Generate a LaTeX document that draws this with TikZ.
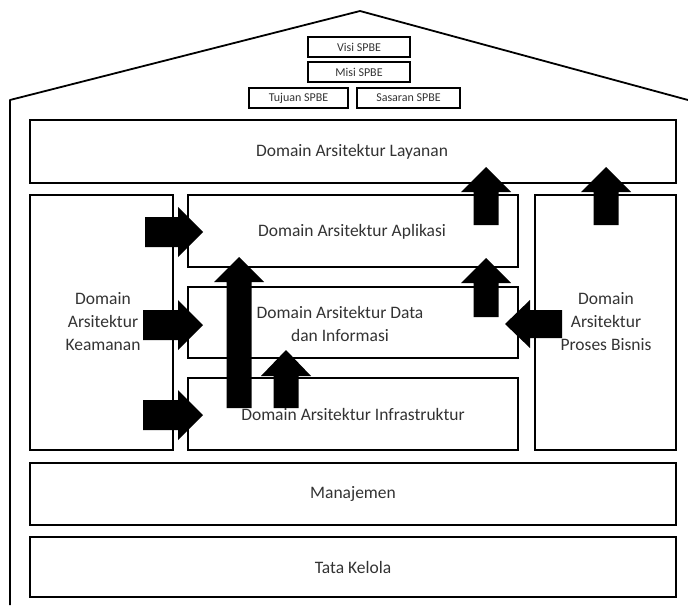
\documentclass[tikz,border=0pt]{standalone}
\usepackage{fontspec}
\setmainfont{Carlito}
\newcommand{\UpArr}[4]{% cx, tip, headbase, bottom
  \fill[black] (#1-12.5,#4) -- (#1-12.5,#3) -- (#1-25,#3) -- (#1,#2) -- (#1+25,#3) -- (#1+12.5,#3) -- (#1+12.5,#4) -- cycle;}
\newcommand{\RightArr}[4]{% cy, tip, headbase, tail
  \fill[black] (#4,#1-15) -- (#3,#1-15) -- (#3,#1-25) -- (#2,#1) -- (#3,#1+25) -- (#3,#1+15) -- (#4,#1+15) -- cycle;}
\begin{document}
\begin{tikzpicture}[x=1pt,y=-1pt,
  box/.style={draw=black,line width=2.5pt,inner sep=0pt},
  small/.style={draw=black,line width=1.3pt,inner sep=0pt,font=\fontsize{12}{13}\selectfont,text=black!80},
  lbl/.style={font=\fontsize{17.5}{23}\selectfont,text=black!80,align=center}]
\useasboundingbox (0,0) rectangle (688,610);
% house outline
\draw[line width=1.8pt,line join=round] (10,605) -- (10,100) -- (360,11) -- (688,100);
% top boxes
\draw[small] (308,37) rectangle (410,57) node[midway,draw=none] (visi) {Visi SPBE};
\draw[small] (308,62) rectangle (410,82) node[midway,draw=none] (misi) {Misi SPBE};
\draw[small] (249,88) rectangle (348,108) node[midway,draw=none] (tujuan) {Tujuan SPBE};
\draw[small] (357,88) rectangle (460,108) node[midway,draw=none] (sasaran) {Sasaran SPBE};
% big boxes
\draw[box] (30,120) rectangle (676,183);
\node[lbl] (layanan) at (352,152) {Domain Arsitektur Layanan};
\draw[box] (30,195) rectangle (173,450);
\node[lbl] (keamanan) at (103,322) {Domain\\Arsitektur\\Keamanan};
\draw[box] (535,195) rectangle (676,450);
\node[lbl] (proses) at (606,322) {Domain\\Arsitektur\\Proses Bisnis};
\draw[box] (188,195) rectangle (518,267);
\node[lbl] (aplikasi) at (352,232) {Domain Arsitektur Aplikasi};
\draw[box] (188,287) rectangle (518,358);
\node[lbl] (data) at (340,324) {Domain Arsitektur Data\\dan Informasi};
\draw[box] (188,378) rectangle (518,450);
\node[lbl] (infra) at (353,414) {Domain Arsitektur Infrastruktur};
\draw[box] (30,463) rectangle (676,525);
\node[lbl] (manajemen) at (353,494) {Manajemen};
\draw[box] (30,537) rectangle (676,597);
\node[lbl] (tata) at (353,567) {Tata Kelola};
% block arrows
\RightArr{232}{203}{178}{145}
\RightArr{325}{203}{178}{143}
\RightArr{415}{203}{178}{143}
\fill[black] (562,310) -- (530,310) -- (530,300) -- (505,324) -- (530,348) -- (530,338) -- (562,338) -- cycle;
\UpArr{239}{257}{282}{408}
\UpArr{286}{350}{376}{408}
\UpArr{486}{258}{283}{317}
\UpArr{486}{167}{192}{225}
\UpArr{606}{167}{192}{225}
\end{tikzpicture}
\end{document}
